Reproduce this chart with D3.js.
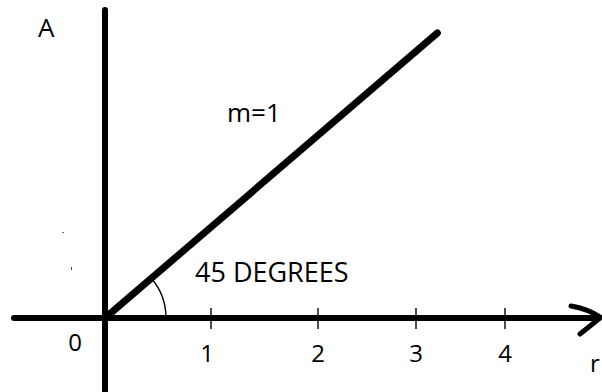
<!DOCTYPE html>
<html>
<head>
<meta charset="utf-8">
<script src="https://cdn.jsdelivr.net/npm/d3@7/dist/d3.min.js"></script>
<style>
  html, body { margin: 0; padding: 0; background: #fff; }
  svg { display: block; }
  text { font-family: "Open Sans", "Noto Sans", sans-serif; fill: #000; }
</style>
</head>
<body>
<script>
// r values marked along the horizontal axis
const tickValues = [1, 2, 3, 4];
const tickLabels = ["1", "2", "3", "4"];
// line A = m * r, drawn from the origin out to r = 3.24
const slope = 1;
const lineR = [0, 3.24];
const lineLabel = "m=1";
const angleLabel = "45 DEGREES";
const yAxisLabel = "A";
const xAxisLabel = "r";
const originLabel = "0";

const W = 602, H = 392;
const svg = d3.select("body").append("svg").attr("width", W).attr("height", H);
svg.append("rect").attr("width", W).attr("height", H).attr("fill", "#fff");

// hand-spaced ticks: piecewise-linear x scale
const x = d3.scaleLinear().domain([0, 1, 2, 3, 4]).range([105, 211, 318, 416, 505]);
const y = d3.scaleLinear().domain([0, 3.24]).range([318, 33]);

// vertical axis
svg.append("line")
  .attr("x1", x(0)).attr("x2", x(0))
  .attr("y1", 10).attr("y2", H + 5)
  .attr("stroke", "#000").attr("stroke-width", 6).attr("stroke-linecap", "round");

// horizontal axis
svg.append("line")
  .attr("x1", 14).attr("x2", 598)
  .attr("y1", y(0)).attr("y2", y(0))
  .attr("stroke", "#000").attr("stroke-width", 6).attr("stroke-linecap", "round");

// arrow head
const arrow = d3.path();
arrow.moveTo(571, 306);
arrow.quadraticCurveTo(588, 309, 600, 317);
arrow.moveTo(600, 318);
arrow.lineTo(580, 334);
svg.append("path").attr("d", arrow.toString())
  .attr("fill", "none").attr("stroke", "#000").attr("stroke-width", 5)
  .attr("stroke-linecap", "round").attr("stroke-linejoin", "round");

// tick marks
svg.selectAll("line.tick").data(tickValues).join("line")
  .attr("class", "tick")
  .attr("x1", d => x(d)).attr("x2", d => x(d))
  .attr("y1", y(0) - 10).attr("y2", y(0) + 11)
  .attr("stroke", "#000").attr("stroke-width", 1.4);

// tick labels
svg.selectAll("text.tl").data(tickValues).join("text")
  .attr("class", "tl")
  .attr("x", (d, i) => x(d) + (i === 0 ? -4 : 0))
  .attr("y", 362)
  .attr("text-anchor", "middle")
  .attr("font-size", 24)
  .text((d, i) => tickLabels[i]);

svg.append("text").attr("x", 75).attr("y", 351).attr("text-anchor", "middle")
  .attr("font-size", 24).text(originLabel);

// the line A = m r
const lineData = lineR.map(r => [r, slope * r]);
svg.append("path")
  .datum(lineData)
  .attr("d", d3.line().x(d => x(d[0])).y(d => y(d[1])))
  .attr("fill", "none").attr("stroke", "#000").attr("stroke-width", 7)
  .attr("stroke-linecap", "round");

// angle marker between the line and the r axis
const ang = Math.atan2(y(0) - y(lineR[1] * slope), x(lineR[1]) - x(0));
const arcPath = d3.path();
arcPath.arc(x(0), y(0), 61, -ang, 0);
svg.append("path").attr("d", arcPath.toString())
  .attr("fill", "none").attr("stroke", "#000").attr("stroke-width", 1.4);

// labels
svg.append("text").attr("x", 38).attr("y", 37).attr("font-size", 26).text(yAxisLabel);
svg.append("text").attr("x", 227).attr("y", 122).attr("font-size", 26).text(lineLabel);
svg.append("text").attr("x", 195).attr("y", 282).attr("font-size", 27).text(angleLabel);
svg.append("text").attr("x", 590).attr("y", 372).attr("font-size", 24).text(xAxisLabel);

// stray specks
svg.append("rect").attr("x", 62).attr("y", 232).attr("width", 2).attr("height", 1).attr("fill", "#777");
svg.append("rect").attr("x", 71).attr("y", 267).attr("width", 1).attr("height", 3).attr("fill", "#444");
</script>
</body>
</html>
